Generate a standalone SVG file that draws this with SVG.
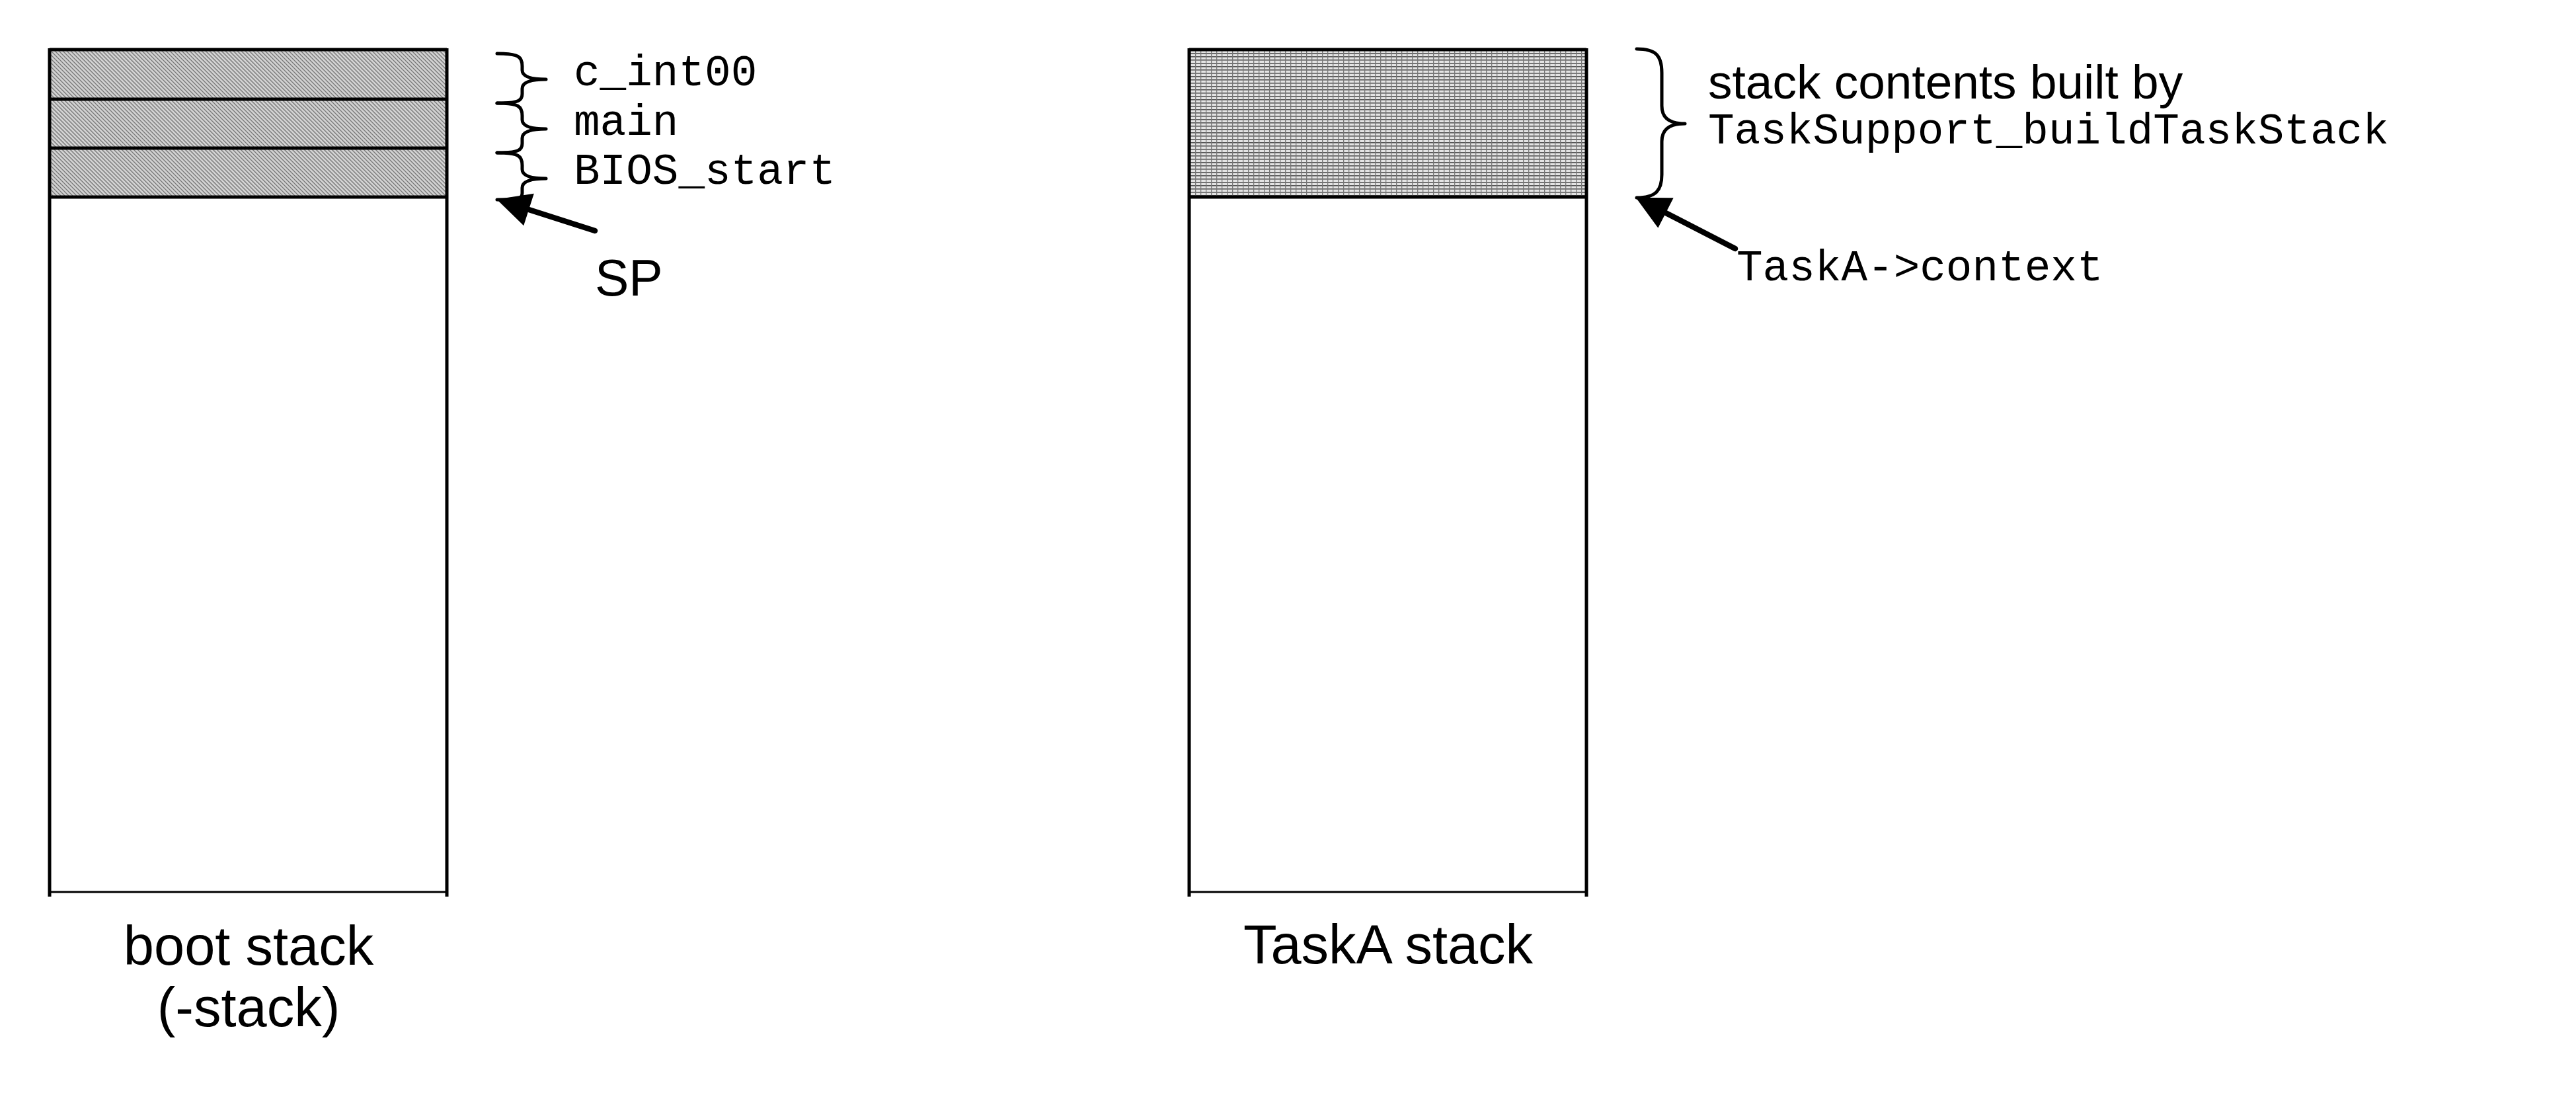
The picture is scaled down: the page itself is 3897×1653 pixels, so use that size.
<svg xmlns="http://www.w3.org/2000/svg" width="3897" height="1653" viewBox="0 0 3897 1653">
<style>
.mono{font-family:"Liberation Mono","Courier New",monospace;font-size:66px;fill:#000}
.sans{font-family:"Liberation Sans",Arial,sans-serif;fill:#000}
.edge{fill:none;stroke:#000;stroke-width:5}
.brace{fill:none;stroke:#000;stroke-width:5;stroke-linecap:round;stroke-linejoin:round}
.shaft{fill:none;stroke:#000;stroke-width:8.5;stroke-linecap:round}
</style>
<defs>
<pattern id="hatch" width="6" height="6" patternUnits="userSpaceOnUse">
<rect width="6" height="6" fill="#d2d2d2"/>
<path d="M-1,-1 L7,7 M-1,5 L1,7 M5,-1 L7,1" stroke="#7a7a7a" stroke-width="1.4"/>
</pattern>
<pattern id="grid" width="8" height="5" patternUnits="userSpaceOnUse">
<rect width="8" height="5" fill="#e4e4e4"/>
<rect y="0" width="8" height="1.6" fill="#555"/>
<rect x="0" y="0" width="1.3" height="5" fill="#777"/>
</pattern>
<marker id="ah" markerWidth="6" markerHeight="6" refX="0" refY="3" orient="auto" markerUnits="strokeWidth" overflow="visible">
<path d="M0,0 L6,3 L0,6 z" fill="#000"/>
</marker>
</defs>

<g id="boot-stack">
<rect x="75" y="75" width="601" height="75" fill="url(#hatch)"/>
<rect x="75" y="150" width="601" height="74" fill="url(#hatch)"/>
<rect x="75" y="224" width="601" height="74" fill="url(#hatch)"/>
<path class="edge" d="M75,75 H676 M75,150 H676 M75,224 H676 M75,298 H676"/>
<path d="M75,73 V1356 M676,73 V1356" fill="none" stroke="#000" stroke-width="5"/>
<path d="M75,1349 H676" fill="none" stroke="#000" stroke-width="3"/>
<text class="sans" x="376" y="1459" font-size="83" text-anchor="middle">boot stack</text>
<text class="sans" x="376" y="1552" font-size="83" text-anchor="middle">(-stack)</text>
</g>

<g id="boot-frames">
<path class="brace" d="M752,81 C785,81 790,86 790,100 L790,106 C790,115 800,120 826,120 C800,120 790,125 790,134 L790,142 C790,152 785,156 752,156"/>
<path class="brace" d="M752,156 C785,156 790,161 790,175 L790,181 C790,190 800,195 826,195 C800,195 790,200 790,209 L790,217 C790,227 785,231 752,231"/>
<path class="brace" d="M752,231 C785,231 790,236 790,250 L790,256 C790,265 800,270 826,270 C800,270 790,275 790,284 L790,292 C790,300 785,302 752,302"/>
<text class="mono" x="868" y="129">c_int00</text>
<text class="mono" x="868" y="204">main</text>
<text class="mono" x="868" y="278">BIOS_start</text>
</g>

<g id="taskA-stack">
<rect x="1799" y="75" width="601" height="223" fill="url(#grid)"/>
<path class="edge" d="M1799,75 H2400 M1799,298 H2400"/>
<path d="M1799,73 V1356 M2400,73 V1356" fill="none" stroke="#000" stroke-width="5"/>
<path d="M1799,1349 H2400" fill="none" stroke="#000" stroke-width="3"/>
<text class="sans" x="2100" y="1457" font-size="83" text-anchor="middle">TaskA stack</text>
</g>

<g id="taskA-contents">
<path class="brace" d="M2476,74 C2505,74 2514,84 2514,110 L2514,160 C2514,178 2525,187 2549,187 C2525,187 2514,196 2514,214 L2514,264 C2514,288 2505,299 2476,299"/>
<text class="sans" x="2584" y="149" font-size="73">stack contents built by</text>
<text class="mono" x="2584" y="217">TaskSupport_buildTaskStack</text>
</g>

<g id="connectors">
<path class="shaft" d="M900,349 L800,317" marker-end="url(#ah)"/>
<path class="shaft" d="M2625,376 L2520,322" marker-end="url(#ah)"/>
</g>

<g id="labels">
<text class="sans" x="900" y="447" font-size="77">SP</text>
<text class="mono" x="2627" y="424">TaskA-&gt;context</text>
</g>
</svg>
